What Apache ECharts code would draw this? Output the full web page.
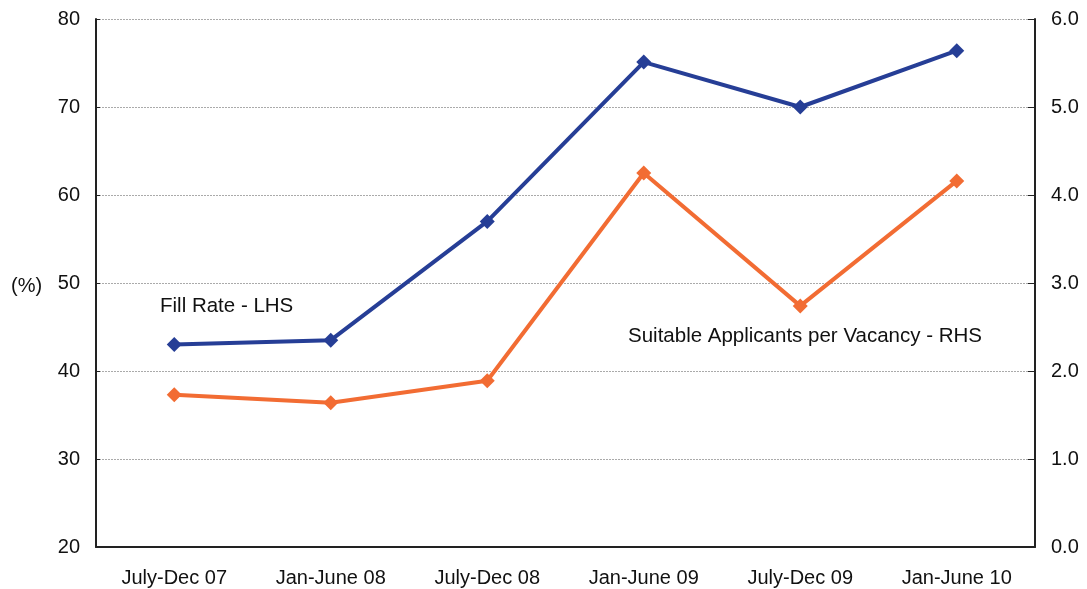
<!DOCTYPE html>
<html>
<head>
<meta charset="utf-8">
<script src="https://cdn.jsdelivr.net/npm/echarts@6/dist/echarts.min.js"></script>
<style>
  html, body { margin: 0; padding: 0; background: #fff; }
  #chart { width: 1087px; height: 589px; }
</style>
</head>
<body>
<div id="chart"></div>
<script>
// half-year periods
var periods = ['July-Dec 07', 'Jan-June 08', 'July-Dec 08', 'Jan-June 09', 'July-Dec 09', 'Jan-June 10'];
// fill rate (%) - left axis
var fillRate = [43.0, 43.5, 57.0, 75.1, 70.0, 76.4];
// suitable applicants per vacancy - right axis
var applicants = [1.73, 1.64, 1.89, 4.25, 2.74, 4.16];

var font = 'Liberation Sans, Arial, sans-serif';
var chart = echarts.init(document.getElementById('chart'));

chart.setOption({
    animation: false,
    backgroundColor: '#fff',
    grid: { left: 96, right: 52, top: 19, bottom: 42 },
    xAxis: {
        type: 'category',
        data: periods,
        boundaryGap: true,
        axisLine: { lineStyle: { color: '#222', width: 2 } },
        axisTick: { inside: true, length: 5, lineStyle: { color: '#222', width: 1.5 } },
        axisLabel: { color: '#111', fontSize: 20, fontFamily: font, margin: 21, interval: 0 }
    },
    yAxis: [
        {
            type: 'value',
            min: 20, max: 80, interval: 10,
            axisLine: { show: true, lineStyle: { color: '#222', width: 2 } },
            axisTick: { show: true, inside: true, length: 4, lineStyle: { color: '#222' } },
            axisLabel: { color: '#111', fontSize: 20, fontFamily: font, margin: 16 },
            splitLine: { show: true, lineStyle: { color: '#aaa', type: [2, 1], width: 1 } }
        },
        {
            type: 'value',
            min: 0, max: 6, interval: 1,
            position: 'right',
            axisLine: { show: true, lineStyle: { color: '#222', width: 2 } },
            axisTick: { show: true, inside: true, length: 7, lineStyle: { color: '#222' } },
            axisLabel: {
                color: '#111', fontSize: 20, fontFamily: font, margin: 16,
                formatter: function (v) { return v.toFixed(1); }
            },
            splitLine: { show: false }
        }
    ],
    series: [
        {
            name: 'Fill Rate - LHS',
            type: 'line',
            yAxisIndex: 0,
            data: fillRate,
            symbol: 'diamond',
            symbolSize: 15,
            lineStyle: { color: '#263E96', width: 4 },
            itemStyle: { color: '#263E96' }
        },
        {
            name: 'Suitable Applicants per Vacancy - RHS',
            type: 'line',
            yAxisIndex: 1,
            data: applicants,
            symbol: 'diamond',
            symbolSize: 15,
            lineStyle: { color: '#F26C33', width: 4 },
            itemStyle: { color: '#F26C33' }
        }
    ],
    graphic: [
        {
            type: 'text', left: 11, top: 276,
            style: { text: '(%)', fill: '#111', font: '20px ' + font }
        },
        {
            type: 'text', left: 160, top: 296,
            style: { text: 'Fill Rate - LHS', fill: '#111', font: '20.5px ' + font }
        },
        {
            type: 'text', left: 628, top: 326,
            style: { text: 'Suitable Applicants per Vacancy - RHS', fill: '#111', font: '20.5px ' + font }
        }
    ]
});
</script>
</body>
</html>
